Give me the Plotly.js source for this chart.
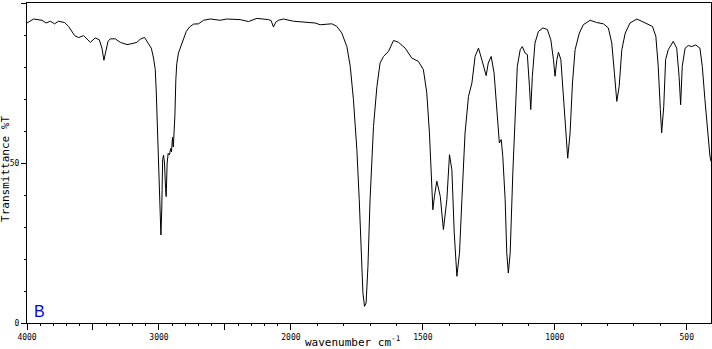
<!DOCTYPE html>
<html>
<head>
<meta charset="utf-8">
<script src="https://cdn.plot.ly/plotly-3.0.1.min.js"></script>
<style>
  html, body { margin: 0; padding: 0; background: #ffffff; }
  #chart { width: 712px; height: 349px; }
</style>
</head>
<body>
<div id="chart"></div>
<script>
// Wavenumber (cm-1)
const wavenumber = [
  4000, 3950, 3886, 3856, 3823, 3791, 3761, 3715, 3685, 3639, 3609, 3571, 3520, 3483, 3452,
  3432, 3417, 3407, 3386, 3369, 3331, 3293, 3242, 3205, 3167, 3142, 3109, 3083, 3058, 3041,
  3028, 3020, 3010, 2998, 2985, 2979, 2972, 2965, 2958, 2950, 2945, 2938, 2930, 2920, 2912,
  2905, 2897, 2891, 2885, 2879, 2872, 2865, 2852, 2833, 2814, 2793, 2768, 2738, 2700, 2662,
  2611, 2536, 2485, 2384, 2321, 2258, 2170, 2150, 2132, 2115, 2094, 2056, 1990, 1965, 1908,
  1889, 1845, 1826, 1807, 1788, 1775, 1763, 1750, 1741, 1734, 1727, 1721, 1715, 1708, 1700,
  1687, 1674, 1662, 1649, 1630, 1611, 1592, 1567, 1542, 1517, 1498, 1485, 1475, 1466, 1462,
  1456, 1447, 1434, 1422, 1409, 1399, 1390, 1381, 1371, 1361, 1352, 1340, 1327, 1314, 1302,
  1289, 1273, 1260, 1252, 1241, 1230, 1220, 1210, 1203, 1197, 1188, 1182, 1176, 1169, 1159,
  1150, 1142, 1131, 1123, 1113, 1104, 1096, 1091, 1085, 1075, 1062, 1045, 1028, 1015, 1005,
  999, 992, 986, 977, 967, 958, 951, 942, 933, 923, 907, 892, 866, 841, 816,
  797, 784, 774, 765, 756, 746, 733, 715, 689, 658, 630, 617, 608, 600, 595,
  587, 580, 570, 551, 538, 529, 523, 517, 506, 494, 481, 466, 450, 441, 431,
  421, 412, 408
];
// Transmittance (%T) at each wavenumber
const transmittance = [
  93.75, 95.0, 94.6, 93.75, 94.3, 93.5, 94.3, 93.9, 92.7, 89.8, 89.2, 89.8, 87.7, 89.1, 88.5,
  85.9, 82.1, 83.8, 88.0, 88.8, 88.8, 87.7, 87.0, 87.3, 87.7, 88.7, 89.25, 87.5, 85.9, 82.8,
  79.2, 71.9, 59.4, 40.6, 27.5, 35, 51, 52.5, 50, 42, 39.5, 50, 53, 52.5, 54.5,
  53.5, 58, 55, 59, 65, 76, 81, 84.4, 86.4, 88.5, 91.1, 92.5, 93.4, 93.5, 94.6,
  95, 94.6, 95, 94.8, 94.2, 95.2, 94.8, 94.5, 92.5, 94.0, 94.6, 95, 94.3, 94.2, 93.75,
  93.2, 93.5, 92.7, 90.6, 86.4, 80.2, 69.8, 54.2, 38.5, 22.9, 9.4, 5.2, 6.25, 17.7, 38.5,
  61.4, 73.9, 81.25, 83.3, 84.9, 88.3, 87.7, 85.9, 82.8, 81.75, 79.2, 71.9, 59.4, 40.6, 35.4,
  39.6, 44.3, 39.6, 29.2, 38.5, 52.6, 47.9, 28.1, 14.6, 21.9, 38.5, 59.4, 70.8, 75, 83.3,
  85.9, 81.25, 77.3, 81.25, 83.3, 78.1, 66.7, 56.25, 57.3, 52.1, 38.5, 21.9, 15.6, 21.9, 46.9,
  64.6, 80.2, 85.4, 86.4, 84.4, 83.9, 73.9, 66.7, 77.1, 87.5, 91.1, 92.2, 91.7, 88.5, 82.3,
  77.1, 82.3, 84.6, 82.3, 69.8, 59.4, 51.5, 59.4, 75, 85.4, 90.6, 93.2, 94.6, 93.9, 93.5,
  92.2, 87.5, 78.1, 69.25, 73.9, 85.4, 90.6, 93.75, 95, 93.9, 92.7, 89.6, 80.2, 66.7, 59.4,
  67.7, 82.3, 85.4, 88, 85.9, 77.1, 68.2, 80.2, 85.9, 86.7, 86.4, 86.9, 85.9, 80.2, 69.8,
  59.4, 52.1, 50.5
];

// Tick labels
const labelTickWavenumbers = [4000, 3000, 2000, 1500, 1000, 500];
const labelTickText = ['4000', '3000', '2000', '1500', '1000', '500'];
const longUnlabeledTickWavenumbers = [3500, 2500];
const yTickValues = [0, 50, 100];
const yTickLabels = ['0', '50', '100'];

// The chart's x scale is doubled below 2000 cm-1 (piecewise linear axis)
function toAxis(w) {
  return w >= 2000 ? 4000 - w : 2000 + 2 * (2000 - w);
}

const minorTickWavenumbers = [];
for (let w = 3900; w >= 500; w -= 100) {
  if (labelTickWavenumbers.indexOf(w) === -1 && longUnlabeledTickWavenumbers.indexOf(w) === -1) {
    minorTickWavenumbers.push(w);
  }
}
const yMinor = [10, 20, 30, 40, 60, 70, 80, 90];
const xRange = [0, toAxis(408)];

const trace = {
  x: wavenumber.map(toAxis),
  y: transmittance,
  type: 'scatter',
  mode: 'lines',
  line: { color: '#000000', width: 1 },
  hoverinfo: 'skip'
};
const tickHolder = {
  x: [], y: [],
  type: 'scatter', mode: 'lines',
  xaxis: 'x2', yaxis: 'y',
  hoverinfo: 'skip', showlegend: false
};

const tickFont = { family: 'DejaVu Sans Mono, monospace', size: 8, color: '#000000' };
const titleFont = { family: 'DejaVu Sans Mono, monospace', size: 11, color: '#000000' };

const layout = {
  width: 712,
  height: 349,
  margin: { l: 27, r: 1, t: 3, b: 26, pad: 0 },
  paper_bgcolor: '#ffffff',
  plot_bgcolor: '#ffffff',
  showlegend: false,
  xaxis: {
    range: xRange,
    showgrid: false,
    zeroline: false,
    showline: true,
    linecolor: '#000000',
    linewidth: 1,
    mirror: true,
    ticks: 'outside',
    ticklen: 6,
    tickwidth: 1,
    tickcolor: '#000000',
    tickmode: 'array',
    tickvals: labelTickWavenumbers.map(toAxis),
    ticktext: labelTickText,
    tickfont: tickFont,
    automargin: false,
    minor: {
      tickmode: 'array',
      tickvals: minorTickWavenumbers.map(toAxis),
      ticks: 'outside',
      ticklen: 2,
      tickwidth: 1,
      tickcolor: '#000000',
      showgrid: false
    }
  },
  xaxis2: {
    overlaying: 'x',
    side: 'bottom',
    anchor: 'y',
    range: xRange,
    showgrid: false,
    zeroline: false,
    showline: false,
    ticks: 'outside',
    ticklen: 6,
    tickwidth: 1,
    tickcolor: '#000000',
    tickmode: 'array',
    tickvals: longUnlabeledTickWavenumbers.map(toAxis),
    showticklabels: false,
    automargin: false
  },
  yaxis: {
    range: [0, 100],
    showgrid: false,
    zeroline: false,
    showline: true,
    linecolor: '#000000',
    linewidth: 1,
    mirror: true,
    ticks: 'outside',
    ticklen: 5,
    tickwidth: 1,
    tickcolor: '#000000',
    tickmode: 'array',
    tickvals: yTickValues,
    ticktext: yTickLabels,
    tickfont: tickFont,
    automargin: false,
    minor: {
      tickmode: 'array',
      tickvals: yMinor,
      ticks: 'outside',
      ticklen: 2,
      tickwidth: 1,
      tickcolor: '#000000',
      showgrid: false
    }
  },
  annotations: [
    {
      text: 'wavenumber cm<sup>-1</sup>',
      xref: 'paper', yref: 'paper',
      x: 0.4766, y: -0.0578,
      xanchor: 'center', yanchor: 'middle',
      showarrow: false,
      font: titleFont
    },
    {
      text: 'Transmittance %T',
      xref: 'paper', yref: 'paper',
      x: -0.0314, y: 0.48,
      xanchor: 'center', yanchor: 'middle',
      textangle: -90,
      showarrow: false,
      font: titleFont
    },
    {
      text: 'B',
      xref: 'paper', yref: 'paper',
      x: 0.019, y: 0.036,
      xanchor: 'center', yanchor: 'middle',
      showarrow: false,
      font: { family: 'Liberation Sans, Arial, sans-serif', size: 16, color: '#0000ff' }
    }
  ]
};

Plotly.newPlot('chart', [trace, tickHolder], layout, { displayModeBar: false, staticPlot: true });
</script>
</body>
</html>
